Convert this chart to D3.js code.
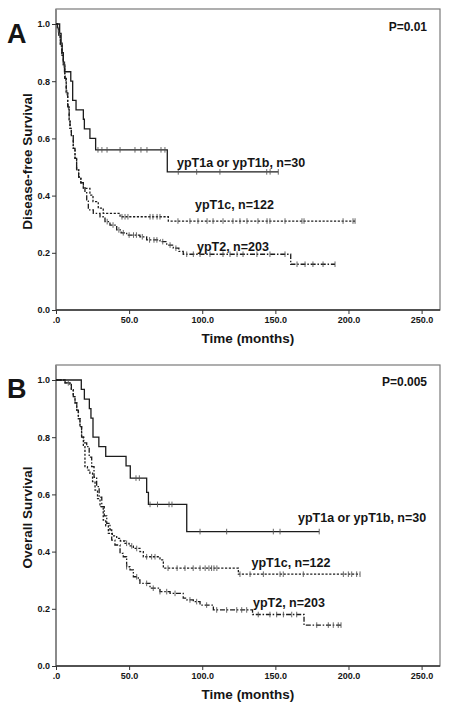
<!DOCTYPE html>
<html><head><meta charset="utf-8">
<script src="https://cdn.jsdelivr.net/npm/d3@7/dist/d3.min.js"></script>
<style>body{margin:0;background:#fff}svg{display:block}text{font-family:Arial,"Liberation Sans",sans-serif;font-weight:bold;fill:#151515}</style>
</head><body><svg id="c" width="451" height="711"></svg>
<script>
// ---------- DATA ----------
const xTicks = [0, 50, 100, 150, 200, 250];
const xTickLabels = [".0", "50.0", "100.0", "150.0", "200.0", "250.0"];
const yTicks = [0, 0.2, 0.4, 0.6, 0.8, 1.0];
const yTickLabels = ["0.0", "0.2", "0.4", "0.6", "0.8", "1.0"];
const groupNames = ["ypT1a or ypT1b, n=30", "ypT1c, n=122", "ypT2, n=203"];

// Panel A: disease-free survival (time in months, survival after step)
const dfsT1abTime = [0, 2.5, 3.5, 4.2, 5.0, 5.8, 10.1, 11.4, 13.7, 18.7, 19.4, 23.2, 27.1, 76.1];
const dfsT1abSurv = [1, 0.967, 0.933, 0.9, 0.867, 0.833, 0.8, 0.733, 0.7, 0.667, 0.633, 0.6, 0.56, 0.483];
const dfsT1abEnd = 152;
const dfsT1abCens = [28.7, 31.4, 34.9, 43.8, 54, 58.1, 62.2, 71.8, 74.5, 83.6, 96.2, 112.1, 144.1, 146.4, 152];

const dfsT1cTime = [0, 1, 2, 3, 4, 5, 6, 7, 8, 9, 9.6, 10.5, 11.8, 13, 14.1, 15.5, 17, 18.7, 23.2, 25.3, 28.9, 32.3, 43.8, 76.8];
const dfsT1cSurv = [1, 0.98, 0.96, 0.93, 0.89, 0.857, 0.81, 0.76, 0.71, 0.665, 0.635, 0.61, 0.565, 0.53, 0.49, 0.465, 0.445, 0.425, 0.402, 0.379, 0.356, 0.338, 0.326, 0.311];
const dfsT1cEnd = 204.5;
const dfsT1cCens = [1.5, 3.5, 6.5, 8.5, 45.1, 47.2, 49.2, 64.3, 66.3, 69.1, 71.1, 83.4, 91.6, 97.1, 103.3, 107.4, 114.2, 121, 125.8, 130.6, 138.1, 144.3, 146.3, 156.6, 168.2, 169.6, 196.3, 203.1, 204.5];

const dfsT2Time = [0, 1, 2, 3, 4, 5, 6, 7, 8, 9, 9.6, 10.5, 11.8, 13, 14.1, 15.5, 17, 18.7, 19.8, 21, 22.1, 25.5, 30.1, 33.5, 36.9, 41.5, 44.5, 48.3, 57.4, 62, 71.1, 75.7, 80.2, 84, 87, 160.5];
const dfsT2Surv = [1, 0.985, 0.96, 0.93, 0.89, 0.857, 0.81, 0.76, 0.71, 0.665, 0.635, 0.61, 0.565, 0.53, 0.49, 0.465, 0.445, 0.431, 0.41, 0.385, 0.35, 0.338, 0.326, 0.309, 0.297, 0.28, 0.27, 0.262, 0.256, 0.245, 0.239, 0.227, 0.216, 0.205, 0.195, 0.16];
const dfsT2End = 190.8;
const dfsT2Cens = [2.5, 5.5, 7.5, 35, 39, 43, 46, 50, 53, 55, 59, 64, 67, 69, 73, 78, 82, 89.4, 93.9, 98.5, 105.3, 114.2, 119, 123.8, 127.9, 137.4, 146.3, 156.6, 164.8, 170.3, 175.7, 182.6, 190.8];

// Panel B: overall survival
const osT1abTime = [0, 17.3, 19.4, 22.8, 23.9, 25.3, 29.3, 34, 47.9, 50.8, 62, 63.2, 89.4];
const osT1abSurv = [1, 0.967, 0.933, 0.9, 0.867, 0.8, 0.767, 0.733, 0.7, 0.657, 0.607, 0.565, 0.47];
const osT1abEnd = 180;
const osT1abCens = [54.7, 57, 64.3, 69.4, 77.3, 79.3, 98.5, 116.7, 148.6, 153.2, 180];

const osT1cTime = [0, 6.2, 9.6, 10.5, 11.8, 13, 14.2, 15.3, 16.4, 17.5, 18.7, 19.8, 21.5, 23.2, 25, 26.7, 28.4, 30.1, 32.3, 34, 35.8, 38.5, 41.5, 44, 47.2, 50, 52.9, 57.4, 59.7, 71.1, 73.4, 124.7];
const osT1cSurv = [1, 0.99, 0.985, 0.965, 0.942, 0.92, 0.895, 0.865, 0.837, 0.8, 0.767, 0.697, 0.685, 0.674, 0.645, 0.615, 0.585, 0.557, 0.51, 0.49, 0.464, 0.455, 0.446, 0.437, 0.429, 0.42, 0.411, 0.4, 0.382, 0.371, 0.342, 0.321];
const osT1cEnd = 207.9;
const osT1cCens = [8.4, 48.3, 51.8, 55.2, 62, 65.4, 67.7, 76.6, 82.8, 88.2, 93.8, 98.5, 102, 104.6, 106.4, 108, 110, 125.8, 132.7, 141.8, 153.2, 155.4, 169.1, 196.5, 199.9, 202.2, 205.6, 207.9];

const osT2Time = [0, 6.2, 9.6, 10.5, 11.8, 13, 14.2, 15.3, 16.4, 17.5, 19, 21, 22.7, 24.4, 26, 27.8, 29.5, 31.3, 33, 34.7, 36.9, 38.1, 40.3, 43.8, 46, 48.3, 50.6, 52.9, 56.3, 57.4, 64.3, 71.1, 78, 87, 89.4, 93.9, 98.5, 107.6, 134.4, 169.6];
const osT2Surv = [1, 0.99, 0.985, 0.965, 0.942, 0.92, 0.895, 0.865, 0.837, 0.8, 0.78, 0.767, 0.73, 0.697, 0.66, 0.627, 0.59, 0.557, 0.525, 0.499, 0.476, 0.44, 0.423, 0.394, 0.382, 0.347, 0.336, 0.312, 0.301, 0.289, 0.272, 0.26, 0.254, 0.237, 0.231, 0.225, 0.213, 0.196, 0.18, 0.143];
const osT2End = 194.9;
const osT2Cens = [48.3, 55.2, 62, 66.5, 71.1, 75.7, 81.4, 91.6, 96.2, 103, 109.9, 116.7, 123.6, 127, 130.4, 138.3, 146.3, 150.9, 155.5, 161.2, 164.6, 178.3, 186.2, 189.6, 193, 194.9];

// ---------- DRAW ----------
const svg = d3.select("#c");
const styles = [
  {dash: null},
  {dash: "2.2,1.6"},
  {dash: "5,1.8,1.5,1.8"}
];

function makeCurve(times, survs, end) {
  const pts = times.map((t, i) => ({t, s: survs[i]}));
  pts.push({t: end, s: survs[survs.length - 1]});
  return pts;
}
function survAt(times, survs, t) {
  let s = 1;
  for (let i = 0; i < times.length; i++) if (times[i] <= t) s = survs[i];
  return s;
}

function panel(cfg) {
  const g = svg.append("g");
  const x = d3.scaleLinear().domain([0, 250]).range([56, 421.6]);
  const y = d3.scaleLinear().domain([0, 1]).range([cfg.y0, cfg.y1]);
  const right = 440;

  // frame
  g.append("rect").attr("x", 56).attr("y", cfg.top).attr("width", right - 56).attr("height", cfg.y0 - cfg.top)
    .attr("fill", "none").attr("stroke", "#7a7a7a").attr("stroke-width", 1.2);

  // axes
  const yAxis = d3.axisLeft(y).tickValues(yTicks).tickFormat((d, i) => yTickLabels[i]).tickSize(4).tickPadding(2);
  const ya = g.append("g").attr("transform", "translate(56,0)").call(yAxis);
  ya.select(".domain").attr("stroke", "#8a8a8a").attr("stroke-width", 2).attr("d", `M0,${cfg.top}V${cfg.y0}`);
  ya.selectAll(".tick line").attr("stroke", "#333");
  ya.selectAll(".tick text").style("font-size", "9px").style("font-weight", "bold").attr("fill", "#151515");

  const xAxis = d3.axisBottom(x).tickValues(xTicks).tickFormat((d, i) => xTickLabels[i]).tickSize(4).tickPadding(2.5);
  const xa = g.append("g").attr("transform", `translate(0,${cfg.y0})`).call(xAxis);
  xa.select(".domain").attr("stroke", "#333").attr("stroke-width", 1.3).attr("d", `M56,0H${right}`);
  xa.selectAll(".tick line").attr("stroke", "#333");
  xa.selectAll(".tick text").style("font-size", "9px").style("font-weight", "bold").attr("fill", "#151515");

  // curves
  const line = d3.line().x(d => x(d.t)).y(d => y(d.s)).curve(d3.curveStepAfter);
  cfg.curves.forEach((c, i) => {
    const pts = makeCurve(c.time, c.surv, c.end);
    g.append("path").datum(pts).attr("d", line).attr("fill", "none")
      .attr("stroke", "#1c1c1c").attr("stroke-width", 1.3)
      .attr("stroke-dasharray", styles[i].dash);
    g.selectAll(null).data(c.cens).enter().append("line")
      .attr("x1", d => x(d)).attr("x2", d => x(d))
      .attr("y1", d => y(survAt(c.time, c.surv, d)) - 2.8)
      .attr("y2", d => y(survAt(c.time, c.surv, d)) + 2.8)
      .attr("stroke", "#555").attr("stroke-width", 0.9);
  });

  // curve labels
  cfg.labels.forEach((l, i) => {
    g.append("text").attr("x", l[0]).attr("y", l[1]).style("font-size", "12.5px").text(groupNames[i]);
  });

  // P value
  g.append("text").attr("x", 427).attr("y", cfg.pY).attr("text-anchor", "end").style("font-size", "12px").text(cfg.p);
  // panel letter
  g.append("text").attr("x", 7).attr("y", cfg.letterY).style("font-size", "27px").text(cfg.letter);
  // axis titles
  g.append("text").attr("transform", `translate(31.5,${(cfg.top + cfg.y0) / 2 + 2}) rotate(-90)`)
    .attr("text-anchor", "middle").style("font-size", "13.5px").text(cfg.ylabel);
  g.append("text").attr("x", 248).attr("y", cfg.xlabelY).attr("text-anchor", "middle").style("font-size", "13.5px").text("Time (months)");
}

panel({
  top: 9, y0: 310, y1: 24, letter: "A", letterY: 43, pY: 30.7, p: "P=0.01",
  ylabel: "Disease-free Survival", xlabelY: 343,
  labels: [[177, 167], [195, 209], [197, 251]],
  curves: [
    {time: dfsT1abTime, surv: dfsT1abSurv, end: dfsT1abEnd, cens: dfsT1abCens},
    {time: dfsT1cTime, surv: dfsT1cSurv, end: dfsT1cEnd, cens: dfsT1cCens},
    {time: dfsT2Time, surv: dfsT2Surv, end: dfsT2End, cens: dfsT2Cens}
  ]
});
panel({
  top: 365, y0: 666, y1: 380, letter: "B", letterY: 398, pY: 386, p: "P=0.005",
  ylabel: "Overall Survival", xlabelY: 699,
  labels: [[298, 522], [251.5, 567], [253, 607]],
  curves: [
    {time: osT1abTime, surv: osT1abSurv, end: osT1abEnd, cens: osT1abCens},
    {time: osT1cTime, surv: osT1cSurv, end: osT1cEnd, cens: osT1cCens},
    {time: osT2Time, surv: osT2Surv, end: osT2End, cens: osT2Cens}
  ]
});
</script></body></html>
